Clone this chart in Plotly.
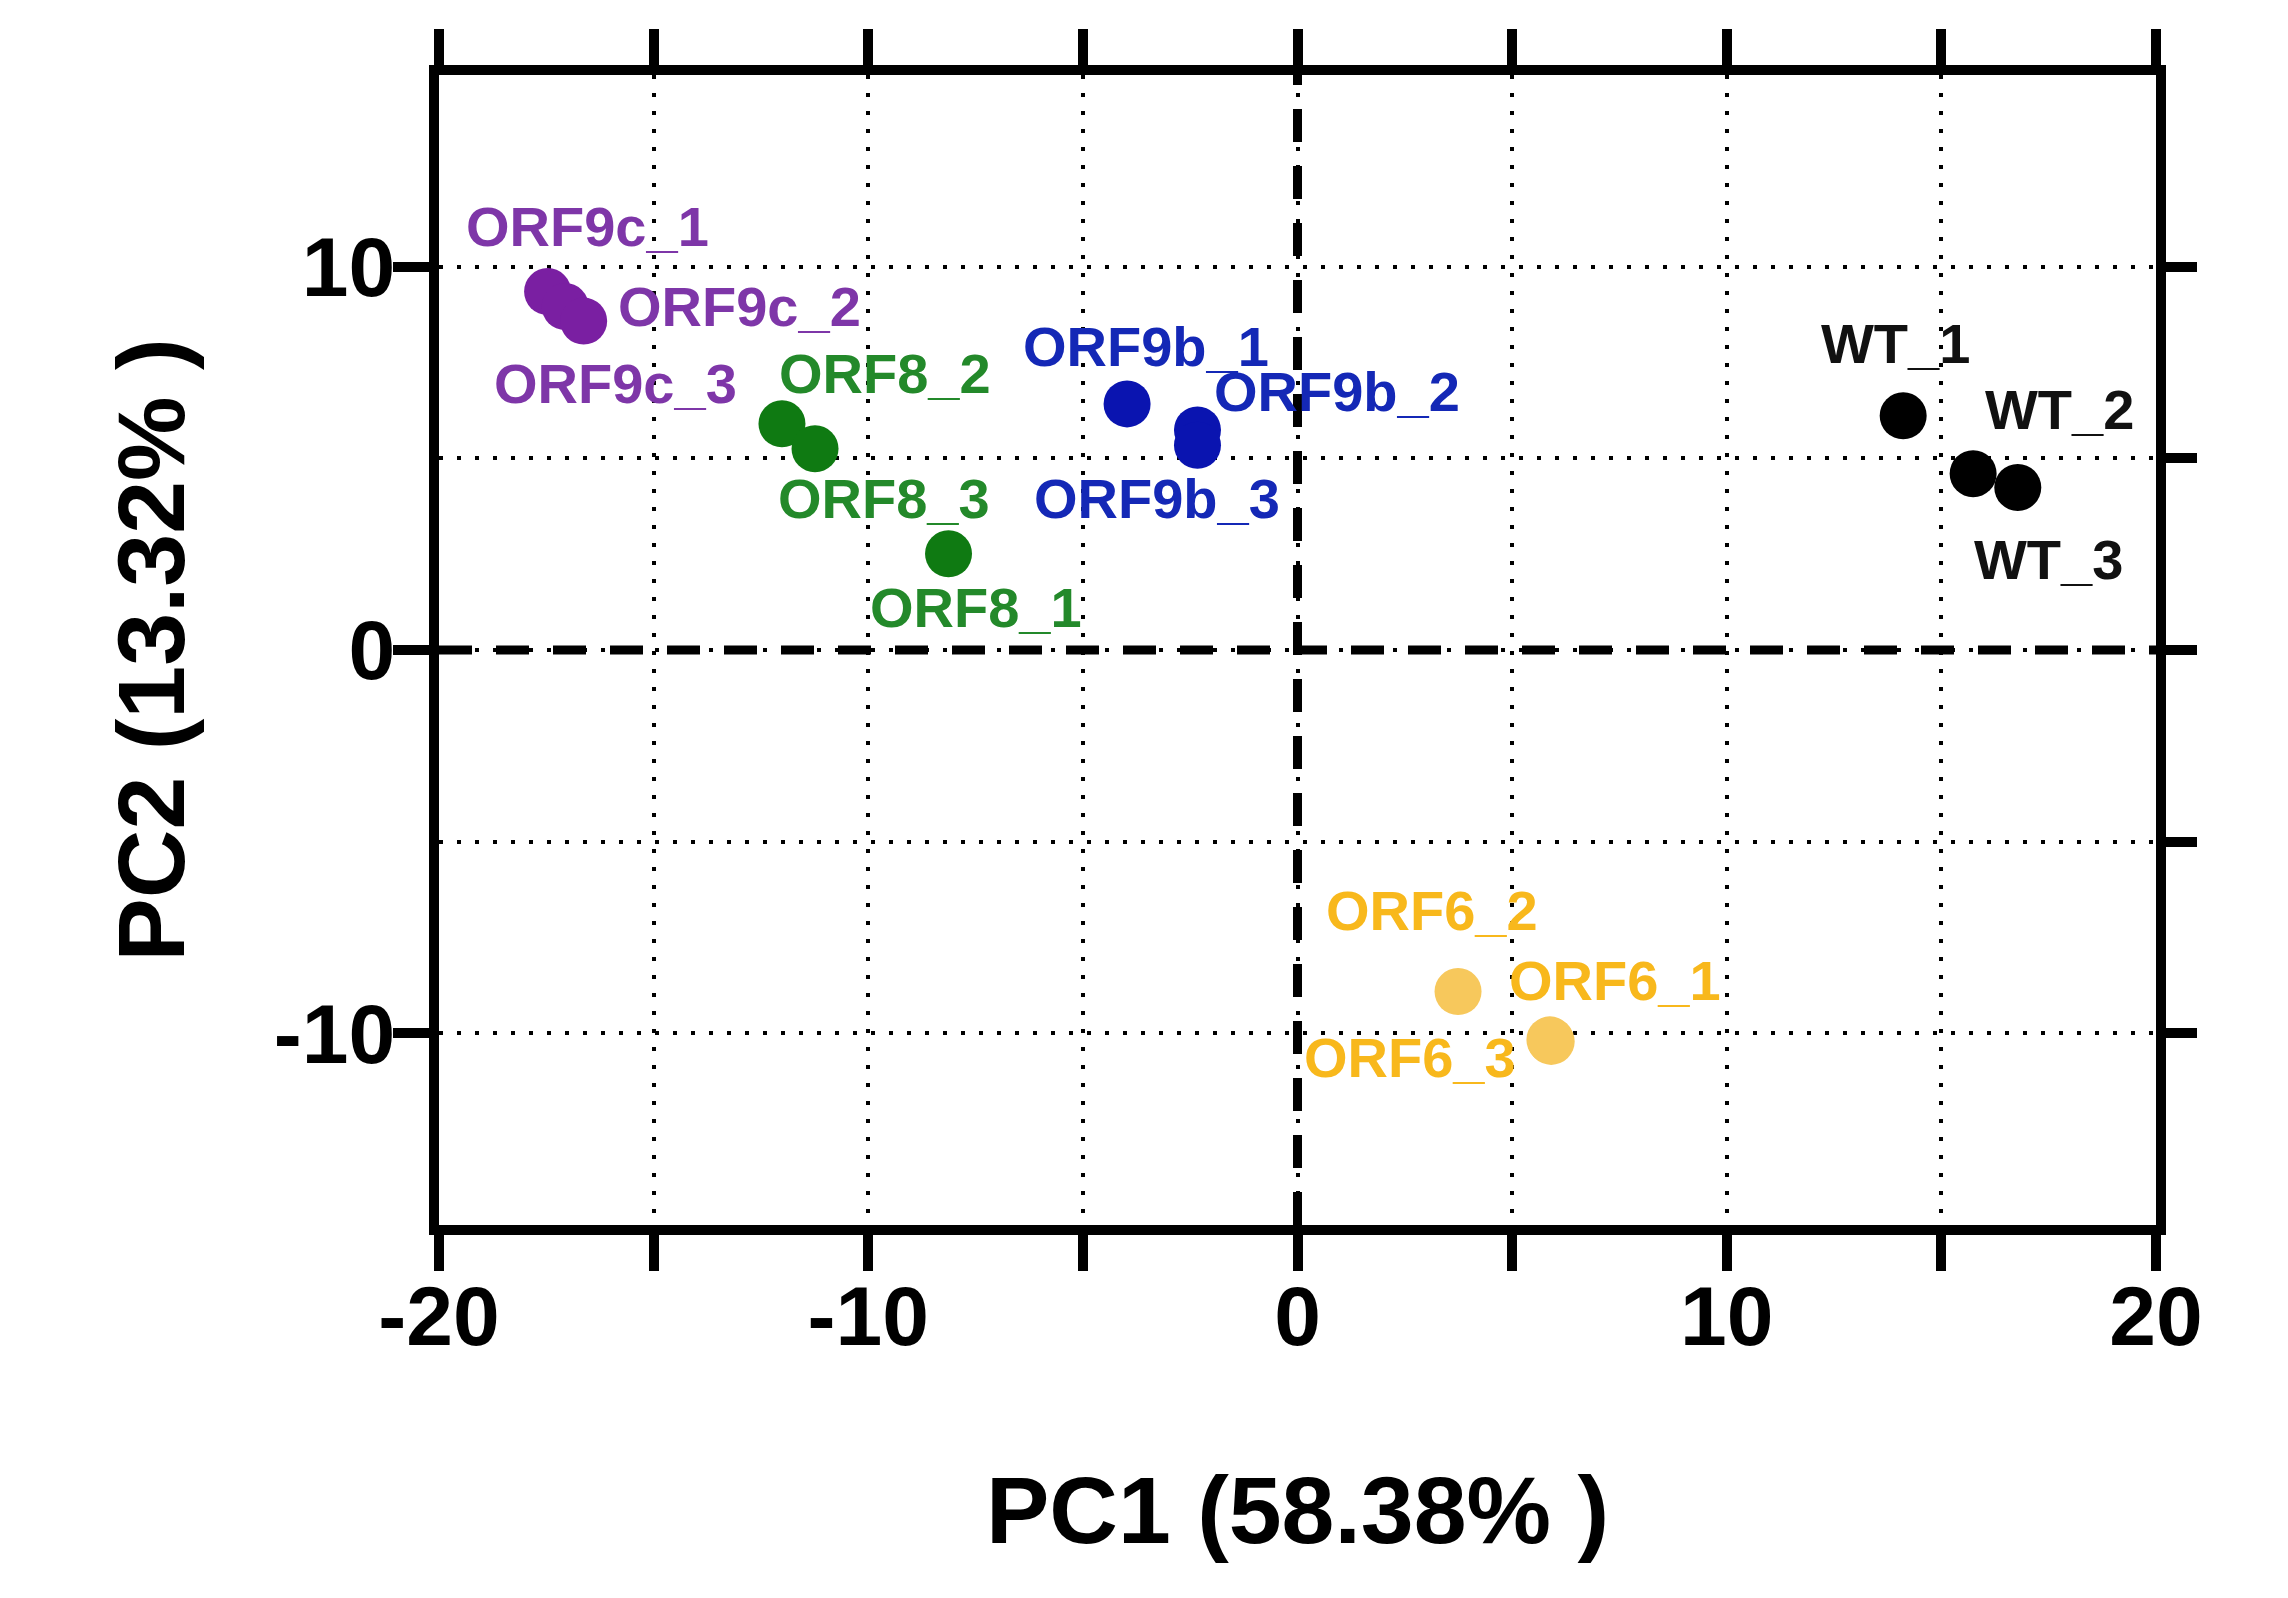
import plotly.graph_objects as go

# ---------------- data ----------------
samples = ["ORF9c_1", "ORF9c_2", "ORF9c_3",
           "ORF8_1", "ORF8_2", "ORF8_3",
           "ORF9b_1", "ORF9b_2", "ORF9b_3",
           "WT_1", "WT_2", "WT_3",
           "ORF6_1", "ORF6_2", "ORF6_3"]
groups = ["ORF9c", "ORF9c", "ORF9c",
          "ORF8", "ORF8", "ORF8",
          "ORF9b", "ORF9b", "ORF9b",
          "WT", "WT", "WT",
          "ORF6", "ORF6", "ORF6"]
pc1 = [-17.47, -17.06, -16.63,
       -8.13, -12.01, -11.24,
       -3.97, -2.33, -2.33,
       14.11, 15.74, 16.78,
       5.91, 3.74, 5.88]
pc2 = [9.35, 8.96, 8.58,
       2.51, 5.90, 5.25,
       6.42, 5.74, 5.34,
       6.11, 4.60, 4.24,
       -10.21, -8.91, -10.17]

group_order = ["ORF9c", "ORF8", "ORF9b", "WT", "ORF6"]

x_tick_vals = [-20, -15, -10, -5, 0, 5, 10, 15, 20]
x_tick_text = ["-20", "", "-10", "", "0", "", "10", "", "20"]
y_tick_vals = [-10, 0, 10]
y_tick_text = ["-10", "0", "10"]
y_right_vals = [-10, -5, 0, 5, 10]

x_title = "PC1 (58.38% )"
y_title = "PC2 (13.32% )"

# ---------------- styles ----------------
marker_colors = {"ORF9c": "#7a1fa2", "ORF8": "#0f7a12", "ORF9b": "#0a14b0",
                 "WT": "#000000", "ORF6": "#f7c85c"}
label_colors = {"ORF9c": "#7e36a8", "ORF8": "#23892a", "ORF9b": "#1428b6",
                "WT": "#111111", "ORF6": "#f8b81c"}
# label offsets in pixels relative to each point (dx right, dy up)
label_offsets = {
    "ORF9c_1": (40, 65), "ORF9c_2": (174, 0), "ORF9c_3": (32, -62),
    "ORF8_1": (27, -54), "ORF8_2": (103, 50), "ORF8_3": (69, -50),
    "ORF9b_1": (19, 57), "ORF9b_2": (140, 38), "ORF9b_3": (-40, -53),
    "WT_1": (-8, 72), "WT_2": (86, 64), "WT_3": (31, -72),
    "ORF6_1": (64, 61), "ORF6_2": (-26, 81), "ORF6_3": (-140, -18),
}

FONT = "Arial, 'Liberation Sans', sans-serif"
LINE_W = 10

fig = go.Figure()

for g in group_order:
    xs = [pc1[i] for i in range(len(samples)) if groups[i] == g]
    ys = [pc2[i] for i in range(len(samples)) if groups[i] == g]
    names = [samples[i] for i in range(len(samples)) if groups[i] == g]
    fig.add_trace(go.Scatter(
        x=xs, y=ys, mode="markers", name=g, text=names,
        marker=dict(size=47, color=marker_colors[g], line=dict(width=0)),
        showlegend=False, xaxis="x", yaxis="y"))

# invisible trace so the right-hand axis is rendered
fig.add_trace(go.Scatter(x=[None], y=[None], xaxis="x", yaxis="y2",
                         showlegend=False, hoverinfo="skip"))

annotations = []
for i, s in enumerate(samples):
    dx, dy = label_offsets[s]
    annotations.append(dict(
        x=pc1[i], y=pc2[i], xref="x", yref="y", text=s, showarrow=False,
        xanchor="center", yanchor="middle", xshift=dx, yshift=dy,
        font=dict(family=FONT, size=56, color=label_colors[groups[i]], weight="bold")))

shapes = [
    dict(type="line", xref="x", yref="paper", x0=0, x1=0, y0=0, y1=1,
         layer="between", line=dict(color="white", width=10)),
    dict(type="line", xref="paper", yref="y", x0=0, x1=1, y0=0, y1=0,
         layer="between", line=dict(color="white", width=10)),
    dict(type="line", xref="x", yref="paper", x0=0, x1=0, y0=0, y1=1,
         layer="between", line=dict(color="black", width=9, dash="33px,24px")),
    dict(type="line", xref="paper", yref="y", x0=0, x1=1, y0=0, y1=0,
         layer="between", line=dict(color="black", width=9, dash="33px,24px")),
]

fig.update_layout(
    width=2288, height=1598,
    margin=dict(l=439, r=132, t=75, b=373),
    paper_bgcolor="white", plot_bgcolor="white",
    font=dict(family=FONT, color="black"),
    annotations=annotations,
    shapes=shapes,
    xaxis=dict(
        range=[-20, 20], tickmode="array", tickvals=x_tick_vals, ticktext=x_tick_text,
        ticks="outside", ticklen=36, tickwidth=LINE_W, tickcolor="black",
        showline=True, linewidth=LINE_W, linecolor="black", mirror="ticks",
        showgrid=True, gridcolor="black", gridwidth=4, griddash="4px,14px",
        zeroline=False,
        tickfont=dict(family=FONT, size=84, color="black", weight="bold"),
        ticklabelstandoff=-27,
        title=dict(text=x_title, standoff=119,
                   font=dict(family=FONT, size=95, color="black", weight="bold")),
    ),
    yaxis=dict(
        range=[-15, 15], tickmode="array", tickvals=y_tick_vals, ticktext=y_tick_text,
        ticks="outside", ticklen=36, tickwidth=LINE_W, tickcolor="black",
        showline=True, linewidth=LINE_W, linecolor="black", mirror=True,
        showgrid=False, zeroline=False,
        tickfont=dict(family=FONT, size=84, color="black", weight="bold"),
        ticklabelstandoff=-19,
        title=dict(text=y_title, standoff=62,
                   font=dict(family=FONT, size=95, color="black", weight="bold")),
    ),
    yaxis2=dict(
        overlaying="y", side="right", matches="y", range=[-15, 15],
        tickmode="array", tickvals=y_right_vals, showticklabels=False,
        ticks="outside", ticklen=31, tickwidth=LINE_W, tickcolor="black",
        showline=True, linewidth=LINE_W, linecolor="black",
        showgrid=True, gridcolor="black", gridwidth=4, griddash="4px,14px",
        zeroline=False,
    ),
)

fig.write_html("out.html")
